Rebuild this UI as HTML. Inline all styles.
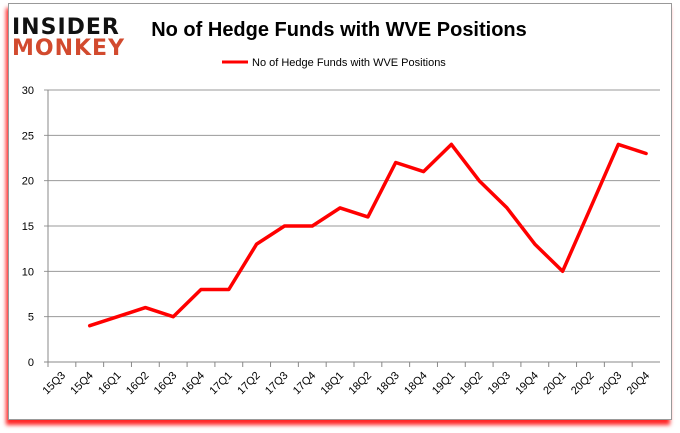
<!DOCTYPE html>
<html><head><meta charset="utf-8"><style>
body{margin:0;background:#fff;width:680px;height:433px;overflow:hidden;font-family:"Liberation Sans",sans-serif}
#frame{position:absolute;left:8px;top:3px;width:662px;height:415px;border:1px solid #999;background:#fff;box-shadow:-2px 5px 4px rgba(255,0,0,.85)}
</style></head><body>
<div id="frame"></div>
<svg id="c" width="680" height="433" style="position:absolute;left:0;top:0">
<g>
<text x="12" y="34" font-size="22" font-weight="900" fill="#111" font-family="'DejaVu Sans',sans-serif" letter-spacing="1">INSIDER</text>
<text x="12" y="55" font-size="22" font-weight="900" fill="#d24a2e" font-family="'DejaVu Sans',sans-serif" letter-spacing="1">MONKEY</text>
</g>
<text x="339" y="36" text-anchor="middle" font-size="20" font-weight="bold" fill="#000">No of Hedge Funds with WVE Positions</text>
<line x1="222" y1="62" x2="248" y2="62" stroke="#f00" stroke-width="3"/>
<text x="252" y="66" font-size="11" fill="#000">No of Hedge Funds with WVE Positions</text>
<g id="axes"></g>
</svg>
<script>
const categories=["15Q3","15Q4","16Q1","16Q2","16Q3","16Q4","17Q1","17Q2","17Q3","17Q4","18Q1","18Q2","18Q3","18Q4","19Q1","19Q2","19Q3","19Q4","20Q1","20Q2","20Q3","20Q4"];
const values=[null,4,5,6,5,8,8,13,15,15,17,16,22,21,24,20,17,13,10,17,24,23];
const yTicks=[0,5,10,15,20,25,30];
const NS="http://www.w3.org/2000/svg";
const g=document.getElementById('axes');
const L=48,R=660,T=90,B=362;
const bw=(R-L)/categories.length;
const x=i=>L+bw*(i+0.5);
const y=v=>B-(v/30)*(B-T);
function mk(t,a){const e=document.createElementNS(NS,t);for(const k in a)e.setAttribute(k,a[k]);g.appendChild(e);return e;}
yTicks.forEach(v=>{
 const l=mk('line',{x1:L-4,x2:R,y1:y(v),y2:y(v),stroke:v===0?'#888':'#999','stroke-width':1});
 
 
 const t=mk('text',{x:L-14,y:y(v)+4,'text-anchor':'end','font-size':11,fill:'#000'});t.textContent=v;
 
 
});
const ax=mk('line',{x1:L,x2:L,y1:T,y2:B,stroke:'#888'});


categories.forEach((c,i)=>{
 const tk=mk('line',{x1:L+bw*i,x2:L+bw*i,y1:B,y2:B+5,stroke:'#888'});
 
 
 const t=mk('text',{x:x(i)+4,y:B+14,'text-anchor':'end','font-size':11,fill:'#000',transform:`rotate(-45 ${x(i)+4} ${B+14})`});t.textContent=c;
 
 
});
let d='';values.forEach((v,i)=>{if(v==null)return;d+=(d?'L':'M')+x(i).toFixed(1)+' '+y(v).toFixed(1);});
const p=mk('path',{d:d,fill:'none',stroke:'#f00','stroke-width':3.5,'stroke-linejoin':'round','stroke-linecap':'round'});


</script>
</body></html>
